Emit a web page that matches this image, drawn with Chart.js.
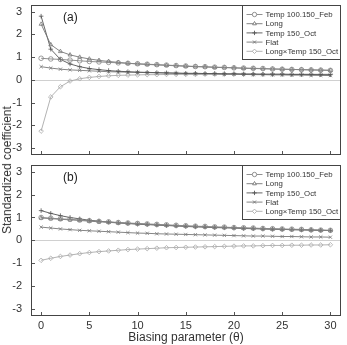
<!DOCTYPE html>
<html>
<head>
<meta charset="utf-8">
<script src="https://cdn.jsdelivr.net/npm/chart.js@4.4.1/dist/chart.umd.min.js"></script>
<style>
  html, body { margin: 0; padding: 0; background: #fff; }
  .wrap { position: relative; width: 347px; height: 345px; font-family: "Liberation Sans", Arial, sans-serif; }
  .panel { position: absolute; left: 0; width: 347px; }
  #panelA { top: 0; height: 160px; }
  #panelB { top: 160px; height: 185px; }
  .ytitle {
    position: absolute; left: 7px; top: 170px; color: #333; font-size: 12px; white-space: nowrap;
    transform: translate(-50%, -50%) rotate(-90deg);
  }
</style>
</head>
<body>
<div class="wrap">
  <div class="panel" id="panelA"><canvas id="chartA"></canvas></div>
  <div class="panel" id="panelB"><canvas id="chartB"></canvas></div>
  <div class="ytitle">Standardized coefficient</div>
</div>
<script>
  const thetas = Array.from({ length: 31 }, (_, i) => i);
  const seriesNames = ["Temp 100.150_Feb", "Long", "Temp 150_Oct", "Flat", "Long\u00d7Temp 150_Oct"];
  const yTicks = [-3, -2, -1, 0, 1, 2, 3];
  const xTicks = [0, 5, 10, 15, 20, 25, 30];

  // panel (a)
  const febA = [0.95,0.92,0.90,0.87,0.84,0.81,0.79,0.77,0.75,0.73,0.71,0.69,0.67,0.65,0.63,0.61,0.59,0.58,0.56,0.55,0.53,0.52,0.51,0.50,0.48,0.47,0.46,0.45,0.44,0.43,0.42];
  const longA = [2.45,1.55,1.25,1.10,1.00,0.92,0.86,0.81,0.77,0.73,0.70,0.68,0.66,0.64,0.62,0.60,0.58,0.57,0.55,0.54,0.53,0.51,0.50,0.49,0.48,0.47,0.46,0.45,0.44,0.43,0.42];
  const octA = [2.80,1.35,0.90,0.70,0.58,0.50,0.45,0.41,0.38,0.36,0.34,0.33,0.32,0.31,0.30,0.29,0.29,0.28,0.28,0.27,0.27,0.26,0.26,0.25,0.25,0.25,0.24,0.24,0.24,0.23,0.23];
  const flatA = [0.58,0.52,0.47,0.44,0.42,0.40,0.38,0.36,0.35,0.34,0.33,0.32,0.31,0.30,0.29,0.28,0.27,0.27,0.26,0.25,0.25,0.24,0.23,0.23,0.22,0.22,0.21,0.21,0.20,0.20,0.19];
  const lxtA = [-2.25,-0.75,-0.30,-0.05,0.05,0.11,0.15,0.18,0.20,0.21,0.22,0.23,0.23,0.24,0.24,0.24,0.24,0.25,0.25,0.25,0.25,0.25,0.25,0.25,0.25,0.25,0.25,0.25,0.25,0.25,0.25];

  // panel (b)
  const febB = [1.00,0.97,0.94,0.92,0.89,0.86,0.83,0.81,0.78,0.76,0.74,0.72,0.70,0.68,0.66,0.64,0.62,0.61,0.59,0.58,0.56,0.55,0.54,0.52,0.51,0.50,0.49,0.48,0.46,0.45,0.44];
  const longB = [0.98,0.95,0.92,0.90,0.87,0.84,0.81,0.79,0.76,0.74,0.72,0.70,0.68,0.66,0.64,0.62,0.61,0.59,0.57,0.56,0.55,0.53,0.52,0.51,0.49,0.48,0.47,0.46,0.45,0.44,0.43];
  const octB = [1.30,1.18,1.08,1.00,0.94,0.88,0.84,0.80,0.77,0.74,0.71,0.69,0.67,0.65,0.63,0.61,0.59,0.58,0.56,0.55,0.54,0.52,0.51,0.50,0.49,0.48,0.47,0.46,0.45,0.44,0.43];
  const flatB = [0.58,0.54,0.50,0.47,0.44,0.42,0.40,0.38,0.36,0.34,0.32,0.31,0.29,0.28,0.27,0.26,0.25,0.24,0.23,0.22,0.21,0.20,0.19,0.19,0.18,0.17,0.17,0.16,0.15,0.15,0.14];
  const lxtB = [-0.87,-0.78,-0.70,-0.64,-0.58,-0.53,-0.49,-0.46,-0.43,-0.40,-0.38,-0.36,-0.34,-0.32,-0.31,-0.30,-0.29,-0.28,-0.27,-0.26,-0.25,-0.24,-0.24,-0.23,-0.22,-0.22,-0.21,-0.21,-0.20,-0.20,-0.19];

  const styles = [
    { color: "#858585", point: "circle" },
    { color: "#777", point: "triangle" },
    { color: "#555", point: "cross" },
    { color: "#777", point: "crossRot" },
    { color: "#aaa", point: "rectRot" }
  ];

  const FONT = "Liberation Sans, Arial, sans-serif";

  function makeDatasets(arrays) {
    return arrays.map((vals, i) => ({
      label: seriesNames[i],
      data: vals.map((v, k) => ({ x: thetas[k], y: v })),
      borderColor: styles[i].color,
      borderWidth: 0.9,
      pointStyle: styles[i].point,
      pointRadius: 2.3,
      pointBorderWidth: 0.8,
      pointBorderColor: styles[i].color,
      pointBackgroundColor: "rgba(255,255,255,0)",
      tension: 0
    }));
  }

  // frame, zero line, inner tick marks, panel label and boxed legend
  const decor = {
    id: "decor",
    beforeDatasetsDraw(chart) {
      const { ctx, chartArea: a, scales } = chart;
      const y0 = scales.y.getPixelForValue(0);
      ctx.save();
      ctx.strokeStyle = "#d0d0d0";
      ctx.lineWidth = 1;
      ctx.beginPath();
      ctx.moveTo(a.left, Math.round(y0) + 0.5);
      ctx.lineTo(a.right, Math.round(y0) + 0.5);
      ctx.stroke();
      ctx.restore();
    },
    afterDatasetsDraw(chart, args, opts) {
      const { ctx, chartArea: a, scales } = chart;
      ctx.save();
      ctx.strokeStyle = "#555";
      ctx.lineWidth = 1;
      yTicks.forEach((v) => {
        const p = Math.round(scales.y.getPixelForValue(v)) + 0.5;
        ctx.beginPath();
        ctx.moveTo(a.left, p);
        ctx.lineTo(a.left + 4, p);
        ctx.stroke();
      });
      xTicks.forEach((v) => {
        const p = Math.round(scales.x.getPixelForValue(v)) + 0.5;
        ctx.beginPath();
        ctx.moveTo(p, a.bottom);
        ctx.lineTo(p, a.bottom - 4);
        ctx.stroke();
      });
      ctx.strokeStyle = "#444";
      ctx.strokeRect(Math.round(a.left) + 0.5, Math.round(a.top) + 0.5, Math.round(a.right - a.left) - 1, Math.round(a.bottom - a.top) - 1);

      ctx.fillStyle = "#222";
      ctx.font = "12px " + FONT;
      ctx.textBaseline = "middle";
      ctx.fillText(opts.tag, a.left + 32, a.top + 13);

      // legend box
      const bw = 99, bh = 54;
      const bx = Math.round(a.right - bw) + 0.5, by = Math.round(a.top) + 0.5;
      ctx.fillStyle = "#fff";
      ctx.fillRect(bx, by, bw, bh);
      ctx.strokeStyle = "#444";
      ctx.strokeRect(bx, by, bw - 1, bh);
      ctx.font = "7.8px " + FONT;
      chart.data.datasets.forEach((ds, i) => {
        const ly = by + 9 + i * 9.2;
        ctx.strokeStyle = ds.borderColor;
        ctx.lineWidth = 0.9;
        ctx.beginPath();
        ctx.moveTo(bx + 4, ly);
        ctx.lineTo(bx + 20, ly);
        ctx.stroke();
        ctx.fillStyle = "#fff";
        Chart.helpers.drawPoint(ctx, { pointStyle: ds.pointStyle, radius: 2.2, borderWidth: 0.8 }, bx + 12, ly);
        ctx.fillStyle = "#333";
        ctx.fillText(ds.label, bx + 23, ly + 0.5);
      });
      ctx.restore();
    }
  };

  function yScale() {
    return {
      type: "linear",
      min: -3.3,
      max: 3.3,
      afterFit: (s) => { s.width = 31; s.paddingTop = 0; s.paddingBottom = 0; },
      afterBuildTicks: (s) => { s.ticks = yTicks.map((v) => ({ value: v })); },
      grid: { display: false, drawTicks: false },
      border: { display: false },
      ticks: { color: "#333", font: { size: 11, family: FONT }, padding: 9 }
    };
  }

  function makeChart(id, arrays, tag, showX) {
    const xs = {
      type: "linear",
      min: -1.05,
      max: 31.1,
      display: showX,
      afterBuildTicks: (s) => { s.ticks = xTicks.map((v) => ({ value: v })); },
      grid: { display: false, drawTicks: false },
      border: { display: false },
      ticks: { color: "#333", font: { size: 11, family: FONT }, padding: 3 },
      title: { display: showX, text: "Biasing parameter (\u03b8)", color: "#333", font: { size: 12, family: FONT }, padding: { top: 0, bottom: 0 } }
    };
    if (showX) xs.afterFit = (s) => { s.height = 29; s.paddingLeft = 0; s.paddingRight = 0; };
    return new Chart(document.getElementById(id), {
      type: "line",
      data: { datasets: makeDatasets(arrays) },
      options: {
        responsive: true,
        maintainAspectRatio: false,
        animation: false,
        layout: { padding: showX ? { top: 3, right: 6, bottom: 0, left: 0 } : { top: 4, right: 6, bottom: 5, left: 0 } },
        plugins: { legend: { display: false }, tooltip: { enabled: false }, decor: { tag } },
        scales: { x: xs, y: yScale() }
      },
      plugins: [decor]
    });
  }

  makeChart("chartA", [febA, longA, octA, flatA, lxtA], "(a)", false);
  makeChart("chartB", [febB, longB, octB, flatB, lxtB], "(b)", true);
</script>
</body>
</html>
